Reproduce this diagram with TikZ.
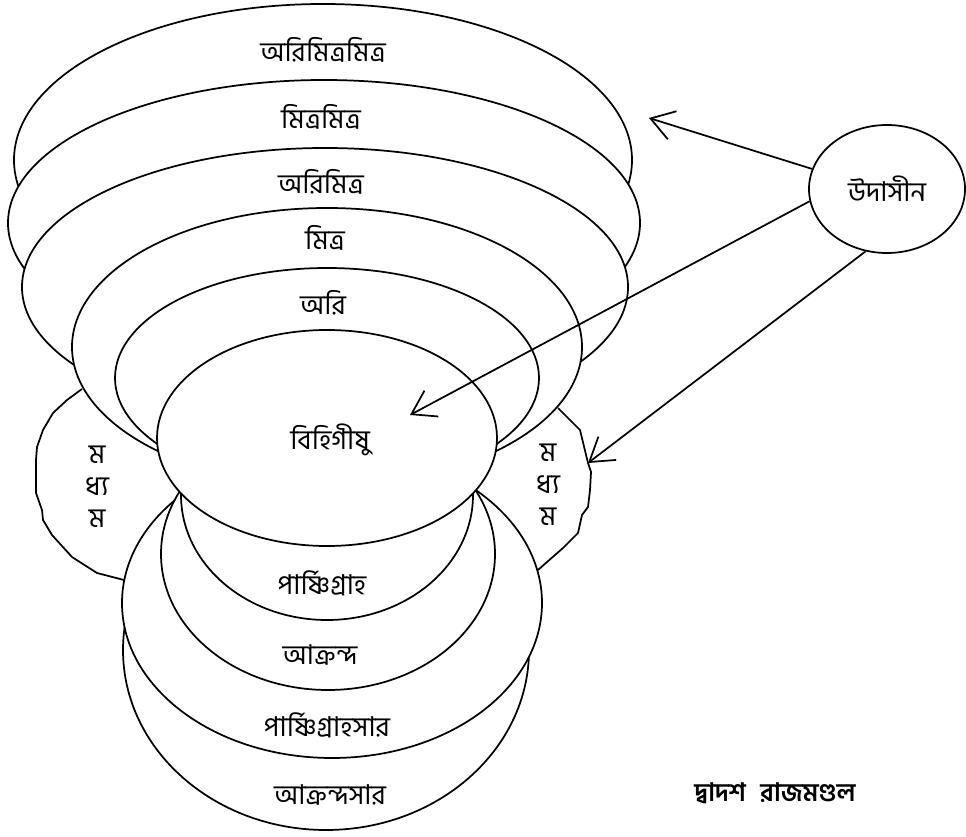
\documentclass[tikz,border=0pt]{standalone}
\usepackage{fontspec}
\usetikzlibrary{shapes.geometric,arrows.meta}
\newfontfamily\bnfont[Script=Bengali]{Hind Siliguri}

\begin{document}
\begin{tikzpicture}[x=0.75pt,y=-0.75pt,line width=1.3pt,
  ring/.style={draw,fill=white},
  lbl/.style={font=\bnfont\fontsize{20.5}{24}\selectfont},
  arr/.style={-{Straight Barb[length=17pt,width=22pt]}}]
\useasboundingbox (0,0) rectangle (966,837);
% madhyama, left and right
\draw (82,389) -- (67,400) -- (53,413) -- (43,430) -- (37,447) -- (36,460)
 -- (36,493) -- (42,510) -- (43,520) -- (52,535) -- (72,557) -- (97,573) -- (124,580);
\draw (558,408) -- (580,430) -- (588,463) -- (591,472) -- (590,490)
 -- (588,507) -- (582,515) -- (578,533) -- (563,548) -- (547,562) -- (538,570);
% upper rings
\draw[ring] (323,160) ellipse [x radius=309, y radius=156];
\draw[ring] (324,223) ellipse [x radius=316, y radius=143];
\draw[ring] (325,287) ellipse [x radius=303, y radius=139];
\draw[ring] (327,347) ellipse [x radius=255, y radius=139];
\draw[ring] (327,378) ellipse [x radius=212, y radius=110];
% lower rings
\draw[ring] (326,650) ellipse [x radius=203, y radius=180];
\draw[ring] (332,603) ellipse [x radius=210, y radius=155];
\draw[ring] (328,554) ellipse [x radius=167, y radius=136];
\draw[ring] (327,495) ellipse [x radius=146, y radius=125];
% centre
\draw[ring] (327,438) ellipse [x radius=170, y radius=108];

\node[lbl] (arimitramitra) at (323,50) {অরিমিত্রমিত্র};
\node[lbl] (mitramitra) at (321,117) {মিত্রমিত্র};
\node[lbl] (arimitra) at (321,182) {অরিমিত্র};
\node[lbl] (mitra) at (325,238) {মিত্র};
\node[lbl] (ari) at (323,303) {অরি};
\node[lbl] (bihigishu) at (330,440) {বিহিগীষু};
\node[lbl] (parshni) at (322,583) {পার্ষ্ণিগ্রাহ};
\node[lbl] (akranda) at (320,655) {আক্রন্দ};
\node[lbl] (parshnisar) at (327,725) {পার্ষ্ণিগ্রাহসার};
\node[lbl] (akrandasar) at (330,795) {আক্রন্দসার};
\node[lbl,align=center] (madhyamL) at (97,487) {ম\\ধ্য\\ম};
\node[lbl,align=center] (madhyamR) at (548,485) {ম\\ধ্য\\ম};
\node[lbl,draw,ellipse,minimum width=117pt,minimum height=96pt] (udasin) at (887,189) {উদাসীন};
\node[font=\bnfont\bfseries\fontsize{19}{22}\selectfont] (title) at (775,793) {দ্বাদশ\hspace{11pt}রাজমণ্ডল};

\coordinate (tipA) at (649,118);
\coordinate (tipB) at (410,415);
\coordinate (tipC) at (588,463);
\draw[arr] (udasin.165) -- (tipA);
\draw[arr] (udasin.189) -- (tipB);
\draw[arr] (udasin.251) -- (tipC);
\end{tikzpicture}
\end{document}
